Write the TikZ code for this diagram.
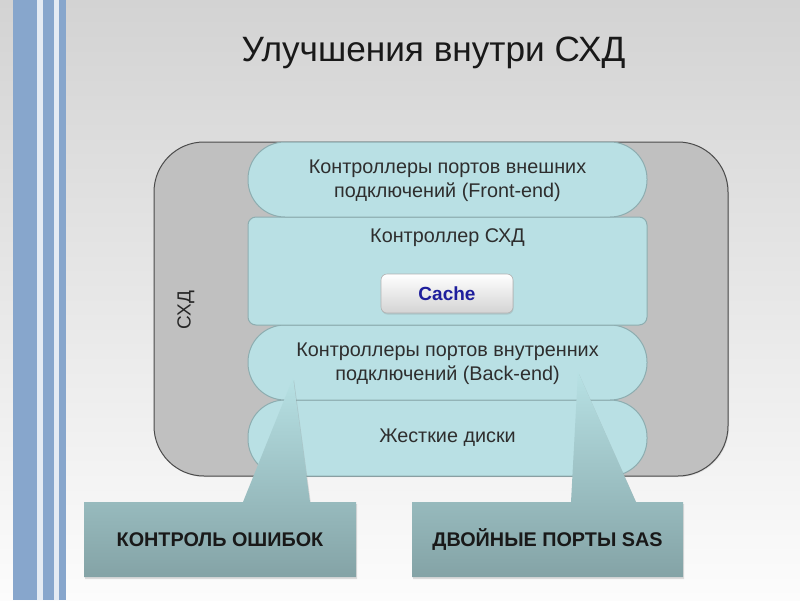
\documentclass[tikz,border=0pt]{standalone}
\usepackage{fontspec}
\setmainfont{Liberation Sans}
\usetikzlibrary{shadows}
\definecolor{bgtop}{HTML}{D3D3D3}
\definecolor{bgbot}{HTML}{FCFCFC}
\definecolor{stripe}{HTML}{87A6CC}
\definecolor{stripegap}{HTML}{E4EBF3}
\definecolor{boxgray}{HTML}{C0C0C0}
\definecolor{boxedge}{HTML}{4A4A4A}
\definecolor{layerfill}{HTML}{B9E0E4}
\definecolor{layeredge}{HTML}{8DADB0}
\definecolor{calltop}{HTML}{B7E1E4}
\definecolor{callbot}{HTML}{84A3A6}
\definecolor{cacheblue}{HTML}{1E1E9C}
\tikzset{
  layer/.style={draw=layeredge, line width=1pt, fill=layerfill, minimum width=399pt, inner sep=0pt},
  layertext/.style={font=\fontsize{19.8}{24}\selectfont, align=center, text=black!82},
  calltext/.style={font=\fontsize{19.8}{22}\selectfont\bfseries, text=black!90},
  callout/.style={top color=calltop, bottom color=callbot, draw=none,
    drop shadow={shadow xshift=1pt, shadow yshift=-2pt, opacity=0.25}},
}
\begin{document}
\begin{tikzpicture}[x=1pt,y=-1pt]
\useasboundingbox (0,0) rectangle (800,600);
% background
\shade[top color=bgtop, bottom color=bgbot] (0,0) rectangle (800,600);
% stripes
\fill[stripegap] (37,0) rectangle (59,600);
\fill[stripe] (13,0) rectangle (37,600);
\fill[stripe] (43,0) rectangle (54,600);
\fill[stripe] (59,0) rectangle (66,600);
% title
\node[font=\fontsize{35.2}{40}\selectfont, text=black!90] (title) at (433.5,53) {Улучшения внутри СХД};
% storage box
\draw[draw=boxedge, line width=1pt, fill=boxgray, rounded corners=50pt,
  drop shadow={shadow xshift=1pt, shadow yshift=-1pt, opacity=0.2}] (154,142) rectangle (728,476);
\node[rotate=90, font=\fontsize{19}{22}\selectfont, text=black!85] (skhd) at (186,310) {СХД};
% layers
\node[layer, rounded corners=37pt, minimum height=76pt] (disks) at (447.5,438) {};
\node[layer, rounded corners=37pt, minimum height=75pt] (back) at (447.5,362.5) {};
\node[layer, rounded corners=8pt, minimum height=108pt] (ctrl) at (447.5,271) {};
\node[layer, rounded corners=37pt, minimum height=75pt] (front) at (447.5,179.5) {};
\node[layertext] (fronttext) at (447.5,181) {Контроллеры портов внешних\\подключений (Front-end)};
\node[layertext] (ctrltext) at (447.5,238) {Контроллер СХД};
\node[layertext] (backtext) at (447.5,364) {Контроллеры портов внутренних\\подключений (Back-end)};
\node[layertext] (diskstext) at (447.5,438) {Жесткие диски};
% cache button
\node[draw=black!30, line width=0.6pt, rounded corners=6pt, top color=white, bottom color=black!17,
  minimum width=132pt, minimum height=39pt, inner sep=0pt,
  drop shadow={shadow xshift=0.5pt, shadow yshift=-1.5pt, opacity=0.25},
  font=\fontsize{19}{22}\selectfont\bfseries, text=cacheblue] (cache) at (447,293.5) {Cache};
% callouts
\path[callout] (84,502) -- (243,502) -- (293,378) -- (310,502) -- (356,502) -- (356,577) -- (84,577) -- cycle;
\path[callout] (412,502) -- (571,502) -- (578,372) -- (636,502) -- (683,502) -- (683,577) -- (412,577) -- cycle;
\node[calltext] (errctl) at (220,539.5) {КОНТРОЛЬ ОШИБОК};
\node[calltext] (dualsas) at (547.5,539.5) {ДВОЙНЫЕ ПОРТЫ SAS};
\end{tikzpicture}
\end{document}
